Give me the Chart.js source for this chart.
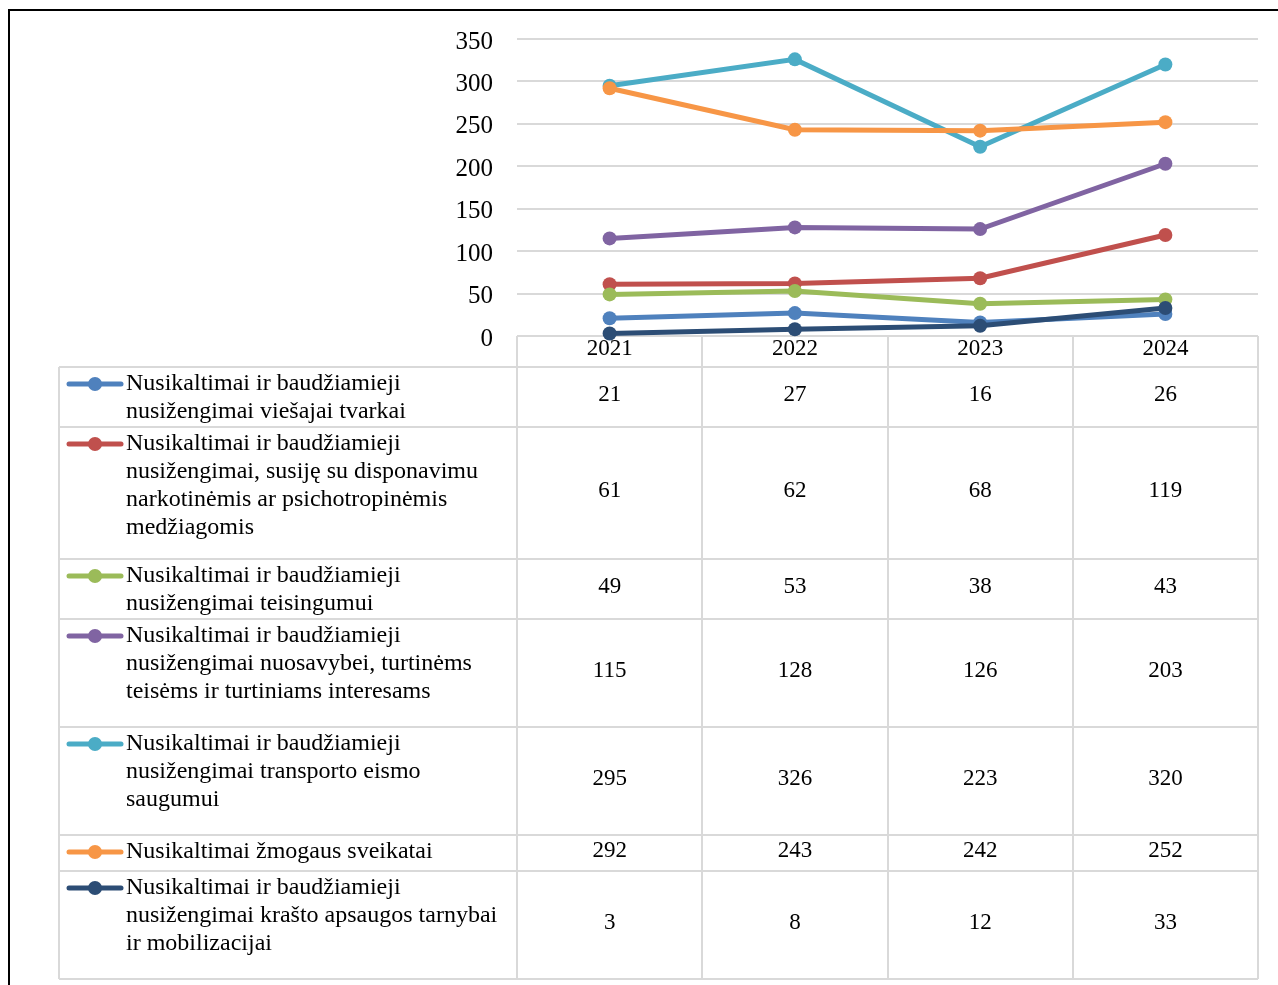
<!DOCTYPE html>
<html>
<head>
<meta charset="utf-8">
<script src="https://cdn.jsdelivr.net/npm/chart.js@4.4.0/dist/chart.umd.min.js"></script>
<style>
  body { margin: 0; background: #fff; }
  #frame { position: absolute; left: 8px; top: 9px; width: 1300px; height: 1000px; border: 2px solid #000; }
  #wrap { position: absolute; left: 0; top: 0; width: 1278px; height: 985px; }
</style>
</head>
<body>
<div id="frame"></div>
<div id="wrap"><canvas id="chart" width="1278" height="985"></canvas></div>
<script>
// categories
const years = ["2021", "2022", "2023", "2024"];

// series values
const viesajaiTvarkai = [21, 27, 16, 26];
const narkotinemis = [61, 62, 68, 119];
const teisingumui = [49, 53, 38, 43];
const nuosavybei = [115, 128, 126, 203];
const transportoEismo = [295, 326, 223, 320];
const zmogausSveikatai = [292, 243, 242, 252];
const krastoApsaugos = [3, 8, 12, 33];

const yTicks = [0, 50, 100, 150, 200, 250, 300, 350];

// series labels, wrapped the way the table shows them
const seriesLabels = [
  ["Nusikaltimai ir baudžiamieji", "nusižengimai viešajai tvarkai"],
  ["Nusikaltimai ir baudžiamieji", "nusižengimai, susiję su disponavimu", "narkotinėmis ar psichotropinėmis", "medžiagomis"],
  ["Nusikaltimai ir baudžiamieji", "nusižengimai teisingumui"],
  ["Nusikaltimai ir baudžiamieji", "nusižengimai nuosavybei, turtinėms", "teisėms ir turtiniams interesams"],
  ["Nusikaltimai ir baudžiamieji", "nusižengimai transporto eismo", "saugumui"],
  ["Nusikaltimai žmogaus sveikatai"],
  ["Nusikaltimai ir baudžiamieji", "nusižengimai krašto apsaugos tarnybai", "ir mobilizacijai"]
];

const seriesValues = [viesajaiTvarkai, narkotinemis, teisingumui, nuosavybei, transportoEismo, zmogausSveikatai, krastoApsaugos];
const colors = ["#4F81BD", "#C0504D", "#9BBB59", "#8064A2", "#4BACC6", "#F79646", "#2C4D75"];

// table layout
const rowHeights = [60, 132, 60, 108, 108, 36, 108];
const headerHeight = 31;
const tableLeft = 59;
const serif = "'Liberation Serif', 'Times New Roman', serif";

const datasets = seriesValues.map((vals, i) => ({
  label: seriesLabels[i].join(" "),
  data: vals,
  borderColor: colors[i],
  backgroundColor: colors[i],
  pointBackgroundColor: colors[i],
  pointBorderColor: colors[i],
  borderWidth: 5,
  pointRadius: 7,
  pointBorderWidth: 0,
  tension: 0,
  clip: false,
  order: seriesValues.length - i // later series sit on top, like Excel
}));

const dataTable = {
  id: "dataTable",
  beforeDatasetsDraw(chart) {
    const ctx = chart.ctx;
    const area = chart.chartArea;
    const xs = chart.scales.x;
    const colW = (area.right - area.left) / years.length;
    const top = area.bottom;
    const bodyTop = top + headerHeight;
    const bottom = bodyTop + rowHeights.reduce((a, b) => a + b, 0);

    ctx.save();
    ctx.strokeStyle = "#D9D9D9";
    ctx.lineWidth = 2;

    // vertical lines of year columns
    for (let i = 0; i <= years.length; i++) {
      const x = Math.round(area.left + i * colW);
      ctx.beginPath();
      ctx.moveTo(x, top);
      ctx.lineTo(x, bottom);
      ctx.stroke();
    }
    // left edge of label column
    ctx.beginPath();
    ctx.moveTo(tableLeft, bodyTop);
    ctx.lineTo(tableLeft, bottom);
    ctx.stroke();

    // header top
    ctx.beginPath();
    ctx.moveTo(area.left, top);
    ctx.lineTo(area.right, top);
    ctx.stroke();

    // row lines
    let y = bodyTop;
    ctx.beginPath();
    ctx.moveTo(tableLeft, y);
    ctx.lineTo(area.right, y);
    ctx.stroke();
    rowHeights.forEach(h => {
      y += h;
      ctx.beginPath();
      ctx.moveTo(tableLeft, y);
      ctx.lineTo(area.right, y);
      ctx.stroke();
    });

    ctx.fillStyle = "#000";
    ctx.textBaseline = "middle";

    // year header
    ctx.font = "23px " + serif;
    ctx.textAlign = "center";
    years.forEach((yr, j) => {
      ctx.fillText(yr, xs.getPixelForValue(j), top + 13);
    });

    // rows
    let rowTop = bodyTop;
    seriesValues.forEach((vals, i) => {
      const h = rowHeights[i];
      const lineY = rowTop + 17;

      // legend key
      ctx.strokeStyle = colors[i];
      ctx.lineWidth = 5;
      ctx.lineCap = "round";
      ctx.beginPath();
      ctx.moveTo(69, lineY);
      ctx.lineTo(121, lineY);
      ctx.stroke();
      ctx.fillStyle = colors[i];
      ctx.beginPath();
      ctx.arc(95, lineY, 7, 0, Math.PI * 2);
      ctx.fill();

      ctx.fillStyle = "#000";
      ctx.font = "24px " + serif;
      ctx.textAlign = "left";
      seriesLabels[i].forEach((ln, k) => {
        ctx.fillText(ln, 126, lineY + k * 28);
      });

      ctx.font = "23px " + serif;
      ctx.textAlign = "center";
      vals.forEach((v, j) => {
        ctx.fillText(String(v), xs.getPixelForValue(j), rowTop + h / 2 - 2);
      });
      rowTop += h;
    });
    ctx.restore();
  }
};

new Chart(document.getElementById("chart"), {
  type: "line",
  data: { labels: years, datasets: datasets },
  options: {
    responsive: false,
    animation: false,
    devicePixelRatio: 1,
    layout: { padding: { left: 440, right: 20, top: 38, bottom: 649 } },
    plugins: {
      legend: { display: false },
      tooltip: { enabled: false }
    },
    scales: {
      x: { type: "category", offset: true, display: false },
      y: {
        min: 0,
        max: 350,
        afterFit(scale) { scale.width = 77; },
        afterBuildTicks(scale) { scale.ticks = yTicks.map(v => ({ value: v })); },
        border: { display: false },
        grid: { color: "#D9D9D9", lineWidth: 2, drawTicks: false },
        ticks: {
          padding: 24,
          labelOffset: 3,
          color: "#000",
          font: { family: serif, size: 25 }
        }
      }
    }
  },
  plugins: [dataTable]
});
</script>
</body>
</html>
